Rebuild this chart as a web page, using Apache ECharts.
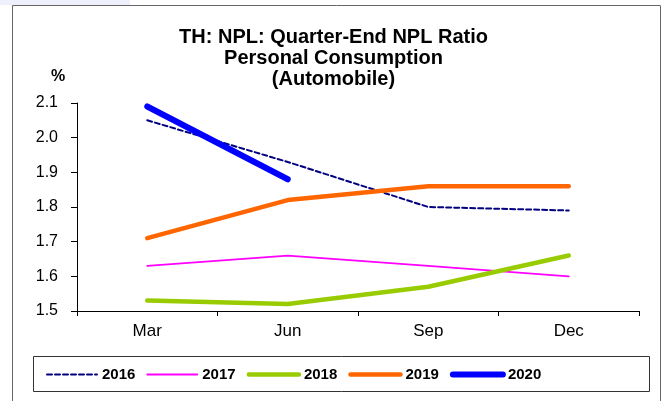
<!DOCTYPE html>
<html>
<head>
<meta charset="utf-8">
<script src="https://cdn.jsdelivr.net/npm/echarts@6/dist/echarts.min.js"></script>
<style>
  html, body { margin: 0; padding: 0; background: #fff; }
  #chart { width: 667px; height: 401px; }
</style>
</head>
<body>
<div id="chart"></div>
<script>
// Quarter-end NPL ratio, personal consumption (automobile), %
const quarters = ['Mar', 'Jun', 'Sep', 'Dec'];
const npl2016 = [2.05, 1.93, 1.80, 1.79];
const npl2017 = [1.63, 1.66, 1.63, 1.60];
const npl2018 = [1.53, 1.52, 1.57, 1.66];
const npl2019 = [1.71, 1.82, 1.86, 1.86];
const npl2020 = [2.09, 1.88];
const yTicks = { min: 1.5, max: 2.1, step: 0.1 };

const font = '"Liberation Sans", Arial, sans-serif';

// series styles: colour, width, dash
const styles = {
  '2016': { color: '#000080', width: 2, type: [5, 3] },
  '2017': { color: '#ff00ff', width: 1.8, type: 'solid' },
  '2018': { color: '#99cc00', width: 4.5, type: 'solid' },
  '2019': { color: '#ff6600', width: 4.5, type: 'solid' },
  '2020': { color: '#0000ff', width: 6, type: 'solid' }
};

function line(name, data) {
  const s = styles[name];
  return {
    name: name,
    type: 'line',
    data: data,
    symbol: 'none',
    symbolSize: 0,
    smooth: false,
    lineStyle: { color: s.color, width: s.width, type: s.type, cap: 'round' },
    itemStyle: { color: s.color },
    emphasis: { disabled: true }
  };
}

const names = ['2016', '2017', '2018', '2019', '2020'];

const chart = echarts.init(document.getElementById('chart'), null, { renderer: 'canvas' });
chart.setOption({
  animation: false,
  backgroundColor: '#ffffff',
  textStyle: { fontFamily: font },
  graphic: [
    { type: 'rect', shape: { x: 0, y: 0, width: 130, height: 5 }, style: { fill: '#eef0fb' }, silent: true },
    { type: 'rect', shape: { x: 12.5, y: 5.5, width: 648, height: 400 }, style: { fill: 'none', stroke: '#666', lineWidth: 1 }, silent: true },
    { type: 'rect', shape: { x: 33.5, y: 356.5, width: 616, height: 35 }, style: { fill: 'none', stroke: '#333', lineWidth: 1 }, silent: true },
    { type: 'text', left: 51, top: 69, style: { text: '%', font: 'bold 16px ' + font, fill: '#000' }, silent: true }
  ],
  title: {
    text: 'TH: NPL: Quarter-End NPL Ratio\nPersonal Consumption\n(Automobile)',
    left: 'center',
    top: 22,
    textStyle: { fontFamily: font, fontWeight: 'bold', fontSize: 20, lineHeight: 21, color: '#000' }
  },
  legend: {
    left: 41,
    top: 362,
    itemWidth: 50,
    itemHeight: 10,
    itemGap: 11,
    itemStyle: { opacity: 0 },
    textStyle: { fontFamily: font, fontWeight: 'bold', fontSize: 15, color: '#000' },
    data: names.map(n => ({
      name: n,
      lineStyle: { color: styles[n].color, width: styles[n].width, type: styles[n].type }
    }))
  },
  grid: { left: 77, right: 28, top: 103, bottom: 90 },
  xAxis: {
    type: 'category',
    data: quarters,
    boundaryGap: true,
    axisLine: { lineStyle: { color: '#000', width: 1 } },
    axisTick: { show: true, alignWithLabel: false, length: 5, lineStyle: { color: '#000' } },
    axisLabel: { color: '#000', fontSize: 17, margin: 12, fontFamily: font }
  },
  yAxis: {
    type: 'value',
    min: yTicks.min,
    max: yTicks.max,
    interval: yTicks.step,
    axisLine: { show: true, lineStyle: { color: '#000', width: 1 } },
    axisTick: { show: true, length: 6, lineStyle: { color: '#000' } },
    splitLine: { show: false },
    axisLabel: { color: '#000', fontSize: 16, margin: 19, fontFamily: font, formatter: v => v.toFixed(1) }
  },
  series: names.map((n, i) => line(n, [npl2016, npl2017, npl2018, npl2019, npl2020][i]))
});
</script>
</body>
</html>
